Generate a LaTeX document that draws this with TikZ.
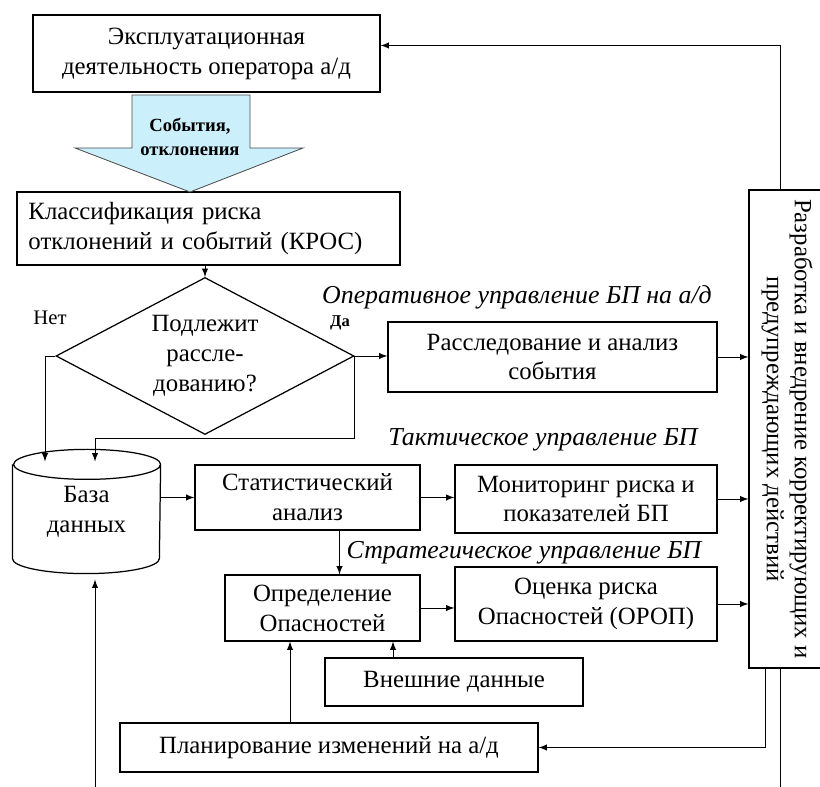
\documentclass[tikz,border=0pt]{standalone}
\usepackage{fontspec}
\setmainfont{Liberation Serif}
\newfontfamily\tnr{Liberation Serif}
\usetikzlibrary{shapes.geometric,arrows}

\begin{document}
\def\px{0.017cm}
\begin{tikzpicture}[
		x=\px, y=-\px,
		box/.style={
			draw,
			fill=white,
			align=center,
			line width=0.6pt,
			font=\tnr\fontsize{12}{14.5}\selectfont
		},
		lane/.style={
			font=\tnr\fontsize{12.5}{15}\selectfont\itshape
		},
		>=latex
		]
		\useasboundingbox (0,0) rectangle (820,787);
		% Blocks
		\node[box, minimum width=347*\px, minimum height=77*\px] (ops) at (206.5,53.5)
			{Эксплуатационная\\деятельность оператора а/д};
		\node[box, align=left, inner xsep=0pt, text width=360*\px,
			minimum width=383*\px, minimum height=73*\px] (kros) at (208.5,228.5)
			{Классификация риска\\отклонений и событий (КРОС)};
		\node[box, diamond, aspect=1.9, inner sep=0pt,
			minimum width=298*\px, minimum height=157*\px] (dia) at (205,356)
			{Подлежит\\рассле-\\дованию?};
		\node[box, minimum width=329*\px, minimum height=70*\px] (inv) at (552.5,357)
			{Расследование и анализ\\события};
		\node[box, draw=none, fill=none, minimum width=147*\px, minimum height=123*\px] (db) at (86.5,511.5)
			{База\\данных};
		\node[box, minimum width=225*\px, minimum height=65*\px] (stat) at (307.5,497.5)
			{Статистический\\анализ};
		\node[box, minimum width=262*\px, minimum height=68*\px] (mon) at (586,499)
			{Мониторинг риска и\\показателей БП};
		\node[box, minimum width=195*\px, minimum height=66*\px] (haz) at (322.5,608)
			{Определение\\Опасностей};
		\node[box, minimum width=262*\px, minimum height=74*\px] (orop) at (586,604)
			{Оценка риска\\Опасностей (ОРОП)};
		\node[box, minimum width=258*\px, minimum height=48*\px] (ext) at (454,682)
			{Внешние данные};
		\node[box, minimum width=418*\px, minimum height=49*\px] (plan) at (329,747.5)
			{Планирование изменений на а/д};
		\node[box, rotate=-90, minimum width=478*\px, minimum height=76*\px,
			font=\tnr\fontsize{12}{13.5}\selectfont] (rbox) at (787,429)
			{Разработка и внедрение корректирующих и\\предупреждающих действий};
		% Database drum
		\draw[line width=0.6pt] ([yshift=-15*\px]db.north west)
			-- ([yshift=15*\px]db.south west)
			arc[start angle=180, end angle=360, x radius=73.5*\px, y radius=15*\px]
			-- ([yshift=-15*\px]db.north east)
			arc[start angle=0, end angle=360, x radius=73.5*\px, y radius=15*\px];
		% Events arrow
		\draw[fill=cyan!20, line width=0.4pt, draw=black!70]
			(132,95) -- (250,95) -- (250,148) -- (303,148) -- (190,192)
			-- (75,148) -- (132,148) -- cycle;
		\node[align=center, font=\tnr\fontsize{9}{12}\selectfont\bfseries] (evt) at (190,137)
			{События,\\отклонения};
		% Labels
		\node[font=\tnr] (no) at (50,318) {Нет};
		\node[font=\tnr\footnotesize\bfseries] (yes) at (340,323) {Да};
		\node[lane] (lop) at (517,297) {Оперативное управление БП на а/д};
		\node[lane] (ltac) at (543,440) {Тактическое управление БП};
		\node[lane] (lstr) at (524,553) {Стратегическое управление БП};
		% Lanes
		\coordinate (xno) at (45,0);
		\coordinate (xyes) at (95,0);
		\coordinate (xfb) at (780,0);
		\coordinate (xpl) at (765,0);
		\coordinate (bot) at (0,787);
		% Connectors
		\draw[->] (dia.north |- kros.south) -- (dia.north);
		\draw[->] (dia.west) -- (dia.west -| xno) -- ([yshift=-12*\px]xno |- db.north);
		\draw[->] (dia.east) -- (dia.east -| inv.west);
		\draw[->] (dia.east) -- ++(0,82) -| ([yshift=-12*\px]xyes |- db.north);
		\draw[->] (stat.west -| db.east) -- (stat.west);
		\draw[->] (stat.east) -- (stat.east -| mon.west);
		\draw[->] ([xshift=32*\px]stat.south) -- ([xshift=32*\px]stat.south |- haz.north);
		\draw[->] (haz.east) -- (haz.east -| orop.west);
		\draw[->] ([xshift=-61*\px]ext.north) -- ([xshift=-61*\px]ext.north |- haz.south);
		\draw[->] ([xshift=-39*\px]plan.north) -- ([xshift=-39*\px]plan.north |- haz.south);
		\draw[->] (inv.east) -- (inv.east -| rbox.south);
		\draw[->] (mon.east) -- (mon.east -| rbox.south);
		\draw[->] (orop.east) -- (orop.east -| rbox.south);
		\draw[->] (xpl |- rbox.east) |- (plan.east);
		\draw[->] (xfb |- rbox.west) |- ([yshift=8*\px]ops.east);
		\draw (xfb |- bot) -- (xfb |- rbox.east);
		\draw[->] (xyes |- bot) -- ([yshift=-6*\px]xyes |- db.south);
\end{tikzpicture}
\end{document}
